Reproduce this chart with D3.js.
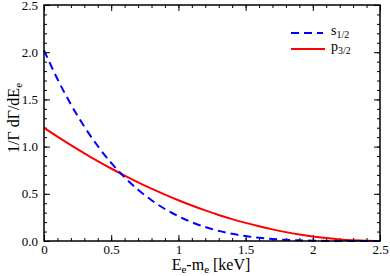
<!DOCTYPE html>
<html><head><meta charset="utf-8">
<script src="https://cdn.jsdelivr.net/npm/d3@7"></script>
<style>body{margin:0;background:#fff}svg{display:block}</style>
</head><body>
<svg id="c" width="390" height="276"></svg>
<script>
const energies = [0,0.1,0.2,0.3,0.4,0.5,0.6,0.7,0.8,0.9,1.0,1.1,1.2,1.3,1.4,1.5,1.6,1.7,1.8,1.9,2.0,2.1,2.2,2.3,2.4,2.5];
const s12 = [2.02,1.716,1.447,1.211,1.006,0.827,0.674,0.543,0.432,0.339,0.262,0.199,0.148,0.107,0.076,0.052,0.034,0.021,0.012,0.007,0.003,0.001,0,0,0,0];
const p32 = [1.2,1.106,1.016,0.929,0.847,0.768,0.693,0.622,0.555,0.492,0.432,0.376,0.324,0.276,0.232,0.192,0.156,0.123,0.094,0.069,0.048,0.031,0.017,0.008,0.002,0];
const xTicks = [0,0.5,1,1.5,2,2.5];
const xTickLabels = ["0","0.5","1","1.5","2","2.5"];
const yTicks = [0,0.5,1,1.5,2,2.5];
const yTickLabels = ["0.0","0.5","1.0","1.5","2.0","2.5"];

const FONT = "'Times New Roman', 'Liberation Serif', Times, serif";
const svg = d3.select("#c").attr("font-family", FONT);
const L=44, R=380, T=5, B=241;
const x = d3.scaleLinear().domain([0,2.5]).range([L,R]);
const y = d3.scaleLinear().domain([0,2.5]).range([B,T]);
const minor = d3.range(0,2.5001,0.1);

const g = svg.append("g");
const mk = (sel, axis) => sel.call(axis).call(s=>s.selectAll(".domain").remove()).call(s=>s.selectAll("text").remove()).call(s=>s.selectAll("line").attr("stroke","#000").attr("stroke-width",1));
mk(g.append("g").attr("transform",`translate(0,${B})`), d3.axisBottom(x).tickValues(minor).tickSizeInner(-3).tickSizeOuter(0));
mk(g.append("g").attr("transform",`translate(0,${T})`), d3.axisTop(x).tickValues(minor).tickSizeInner(-3).tickSizeOuter(0));
mk(g.append("g").attr("transform",`translate(${L},0)`), d3.axisLeft(y).tickValues(minor).tickSizeInner(-3).tickSizeOuter(0));
mk(g.append("g").attr("transform",`translate(${R},0)`), d3.axisRight(y).tickValues(minor).tickSizeInner(-3).tickSizeOuter(0));
mk(g.append("g").attr("transform",`translate(0,${T})`), d3.axisTop(x).tickValues(xTicks).tickSizeInner(-6).tickSizeOuter(0));
mk(g.append("g").attr("transform",`translate(${R},0)`), d3.axisRight(y).tickValues(yTicks).tickSizeInner(-6).tickSizeOuter(0));

const xa = g.append("g").attr("transform",`translate(0,${B})`)
  .call(d3.axisBottom(x).tickValues(xTicks).tickFormat((d,i)=>xTickLabels[i]).tickSizeInner(-6).tickSizeOuter(0).tickPadding(4));
xa.attr("font-family", FONT).attr("font-size",13);
xa.select(".domain").remove();
xa.selectAll("line").attr("stroke","#000");
xa.selectAll("text").attr("fill","#000");

const ya = g.append("g").attr("transform",`translate(${L},0)`)
  .call(d3.axisLeft(y).tickValues(yTicks).tickFormat((d,i)=>yTickLabels[i]).tickSizeInner(-6).tickSizeOuter(0).tickPadding(6));
ya.attr("font-family", FONT).attr("font-size",13);
ya.select(".domain").remove();
ya.selectAll("line").attr("stroke","#000");
ya.selectAll("text").attr("fill","#000");

const line = d3.line().x((d,i)=>x(energies[i])).y(d=>y(d)).curve(d3.curveMonotoneX);
svg.append("path").attr("d",line(p32)).attr("fill","none").attr("stroke","#ff0000").attr("stroke-width",2);
svg.append("path").attr("d",line(s12)).attr("fill","none").attr("stroke","#0000ff").attr("stroke-width",2).attr("stroke-dasharray","8,5");

svg.append("rect").attr("x",L).attr("y",T).attr("width",R-L).attr("height",B-T).attr("fill","none").attr("stroke","#000").attr("stroke-width",1.5);

const lg = svg.append("g");
lg.append("line").attr("x1",291).attr("x2",323).attr("y1",33).attr("y2",33).attr("stroke","#0000ff").attr("stroke-width",2).attr("stroke-dasharray","8,5");
lg.append("line").attr("x1",291).attr("x2",325).attr("y1",49).attr("y2",49).attr("stroke","#ff0000").attr("stroke-width",2);
const t1 = lg.append("text").attr("x",331).attr("y",35).attr("font-size",14);
t1.append("tspan").text("s");
t1.append("tspan").attr("font-size",10).attr("dy",3).text("1/2");
const t2 = lg.append("text").attr("x",331).attr("y",51).attr("font-size",14);
t2.append("tspan").text("p");
t2.append("tspan").attr("font-size",10).attr("dy",3).text("3/2");

const xt = svg.append("text").attr("x",211).attr("y",270).attr("text-anchor","middle").attr("font-size",16);
xt.append("tspan").text("E");
xt.append("tspan").attr("font-size",11).attr("dy",3).text("e");
xt.append("tspan").attr("dy",-3).text("-m");
xt.append("tspan").attr("font-size",11).attr("dy",3).text("e");
xt.append("tspan").attr("dy",-3).text(" [keV]");

const yt = svg.append("text").attr("transform","translate(19,118) rotate(-90)").attr("text-anchor","middle").attr("font-size",16);
yt.append("tspan").text("1/Γ dΓ/dE");
yt.append("tspan").attr("font-size",11).attr("dy",3).text("e");
</script>
</body></html>
